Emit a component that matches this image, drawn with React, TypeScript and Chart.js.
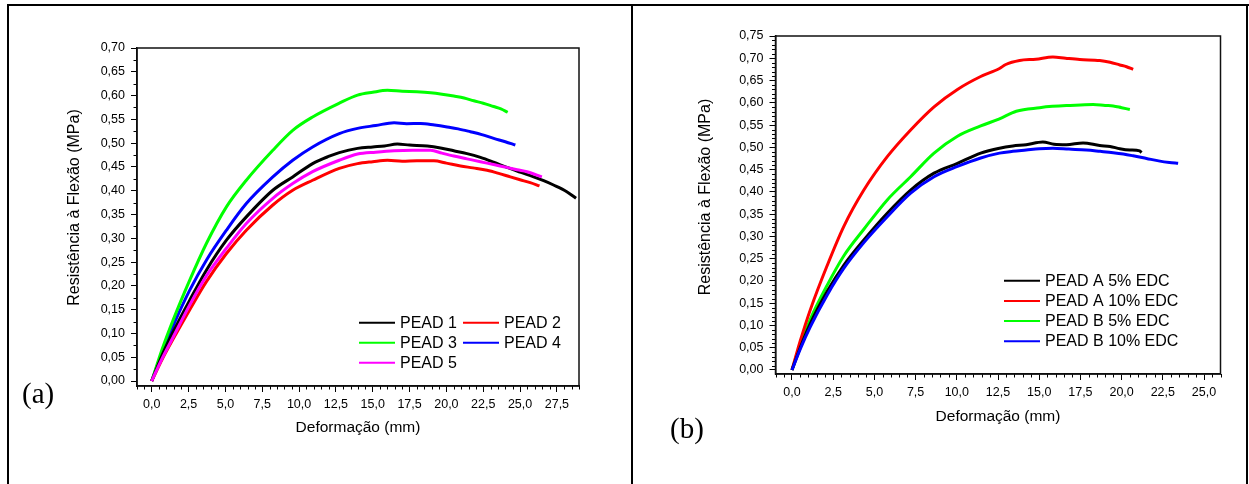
import React, { useEffect, useRef } from "react";
import { Chart, registerables } from "chart.js";

Chart.register(...registerables);

type Pt = [number, number];

// ---------- Panel (a) data: Deformação (mm) vs Resistência à Flexão (MPa) ----------
const pead1: Pt[] = [
  [0, 0], [0.7, 0.054], [1.45, 0.103], [2.58, 0.17], [3.71, 0.233], [5.07, 0.296], [6.42, 0.345],
  [8.22, 0.401], [9.57, 0.429], [10.92, 0.457], [12.0, 0.472], [12.73, 0.48], [13.97, 0.489],
  [15.0, 0.492], [15.8, 0.494], [16.67, 0.498], [17.5, 0.496], [18.7, 0.494], [19.6, 0.49],
  [20.5, 0.484], [21.4, 0.478], [22.31, 0.47], [23.2, 0.46], [24.11, 0.449], [25.0, 0.439],
  [25.92, 0.429], [26.6, 0.421], [27.27, 0.412], [28.17, 0.398], [28.8, 0.384],
];
const pead2: Pt[] = [
  [0, 0], [0.7, 0.045], [1.45, 0.088], [2.58, 0.15], [3.71, 0.209], [5.07, 0.268], [6.42, 0.317],
  [8.22, 0.37], [9.57, 0.401], [10.92, 0.422], [12.73, 0.447], [13.97, 0.457], [15.0, 0.461],
  [16.0, 0.464], [17.0, 0.462], [18.0, 0.463], [19.15, 0.463], [20.0, 0.458], [20.96, 0.452],
  [21.8, 0.448], [22.76, 0.443], [23.6, 0.436], [24.34, 0.429], [25.0, 0.423], [25.69, 0.417],
  [26.32, 0.41],
];
const pead3: Pt[] = [
  [0, 0], [0.7, 0.066], [1.45, 0.128], [2.58, 0.212], [3.71, 0.289], [5.07, 0.366], [6.42, 0.422],
  [8.22, 0.485], [9.57, 0.527], [10.92, 0.555], [12.73, 0.584], [13.97, 0.601], [15.0, 0.607],
  [16.0, 0.611], [17.0, 0.609], [18.0, 0.608], [18.93, 0.606], [19.7, 0.603], [20.5, 0.599],
  [21.2, 0.595], [21.86, 0.589], [22.5, 0.584], [23.2, 0.577], [23.7, 0.572], [24.16, 0.565],
];
const pead4: Pt[] = [
  [0, 0], [0.7, 0.06], [1.45, 0.116], [2.58, 0.191], [3.71, 0.254], [5.07, 0.317], [6.42, 0.373],
  [8.22, 0.429], [9.57, 0.464], [10.92, 0.492], [12.73, 0.52], [13.97, 0.531], [15.2, 0.537],
  [16.45, 0.543], [17.3, 0.541], [18.25, 0.5415], [19.2, 0.538], [20.05, 0.534], [20.8, 0.53],
  [21.63, 0.524], [22.4, 0.518], [23.21, 0.51], [24.0, 0.503], [24.68, 0.496],
];
const pead5: Pt[] = [
  [0, 0], [0.7, 0.047], [1.45, 0.092], [2.58, 0.16], [3.71, 0.221], [5.07, 0.279], [6.42, 0.331],
  [8.22, 0.384], [9.57, 0.415], [10.92, 0.44], [12.73, 0.464], [13.97, 0.477], [15.2, 0.481],
  [16.45, 0.484], [17.7, 0.485], [18.93, 0.485], [19.7, 0.479], [20.5, 0.473], [21.4, 0.467],
  [22.31, 0.461], [23.2, 0.455], [24.11, 0.449], [24.8, 0.444], [25.47, 0.44], [26.48, 0.429],
];
const labelsA = ["PEAD 1", "PEAD 2", "PEAD 3", "PEAD 4", "PEAD 5"];
const colorsA = ["#000000", "#ff0000", "#00ff00", "#0000ff", "#ff00ff"];
const xTicksA = [0, 2.5, 5, 7.5, 10, 12.5, 15, 17.5, 20, 22.5, 25, 27.5];
const yTicksA = [0, 0.05, 0.1, 0.15, 0.2, 0.25, 0.3, 0.35, 0.4, 0.45, 0.5, 0.55, 0.6, 0.65, 0.7];

// ---------- Panel (b) data ----------
const peadA5: Pt[] = [
  [0, 0], [0.5, 0.05], [1.11, 0.104], [2.13, 0.176], [3.14, 0.235], [4.36, 0.292], [5.78, 0.352],
  [7.2, 0.404], [8.62, 0.442], [10.04, 0.464], [11.45, 0.487], [12.59, 0.498], [13.4, 0.503],
  [14.21, 0.506], [15.22, 0.512], [15.9, 0.507], [16.65, 0.506], [17.66, 0.51], [18.67, 0.504],
  [19.3, 0.502], [19.89, 0.497], [20.5, 0.494], [21.1, 0.492], [21.2, 0.488],
];
const peadA10: Pt[] = [
  [0, 0], [0.5, 0.065], [1.11, 0.135], [2.13, 0.234], [3.14, 0.322], [4.36, 0.404], [5.78, 0.479],
  [7.2, 0.539], [8.62, 0.591], [10.04, 0.63], [11.45, 0.659], [12.59, 0.677], [12.97, 0.686],
  [13.81, 0.695], [14.8, 0.698], [15.83, 0.703], [16.6, 0.7], [17.46, 0.697], [18.67, 0.695],
  [19.3, 0.691], [19.89, 0.685], [20.3, 0.681], [20.7, 0.675],
];
const peadB5: Pt[] = [
  [0, 0], [0.5, 0.056], [1.11, 0.114], [2.13, 0.19], [3.14, 0.256], [4.36, 0.316], [5.78, 0.382],
  [7.2, 0.434], [8.62, 0.487], [10.04, 0.525], [11.45, 0.548], [12.59, 0.564], [13.61, 0.581],
  [15.03, 0.589], [15.8, 0.592], [16.65, 0.594], [17.5, 0.595], [18.27, 0.596], [19.0, 0.594],
  [19.49, 0.593], [20.0, 0.589], [20.5, 0.585],
];
const peadB10: Pt[] = [
  [0, 0], [0.5, 0.047], [1.11, 0.097], [2.13, 0.168], [3.14, 0.228], [4.36, 0.286], [5.78, 0.344],
  [7.2, 0.397], [8.62, 0.434], [10.04, 0.457], [11.45, 0.476], [12.59, 0.487], [13.4, 0.491],
  [14.21, 0.494], [15.0, 0.497], [15.83, 0.498], [16.8, 0.496], [17.86, 0.494], [18.7, 0.491],
  [19.49, 0.488], [20.1, 0.485], [20.7, 0.481], [21.51, 0.475], [22.32, 0.469], [22.9, 0.466],
  [23.43, 0.464],
];
const labelsB = ["PEAD A 5% EDC", "PEAD A 10% EDC", "PEAD B 5% EDC", "PEAD B 10% EDC"];
const colorsB = ["#000000", "#ff0000", "#00ff00", "#0000ff"];
const xTicksB = [0, 2.5, 5, 7.5, 10, 12.5, 15, 17.5, 20, 22.5, 25];
const yTicksB = [0, 0.05, 0.1, 0.15, 0.2, 0.25, 0.3, 0.35, 0.4, 0.45, 0.5, 0.55, 0.6, 0.65, 0.7, 0.75];

const xTitle = "Deformação (mm)";
const yTitle = "Resistência à Flexão (MPa)";

const FONT = "'Liberation Sans', Arial, Helvetica, sans-serif";

interface PanelCfg {
  series: Pt[][];
  labels: string[];
  colors: string[];
  orders: number[];
  xMin: number; xMax: number; yMin: number; yMax: number;
  xTicks: number[]; yTicks: number[];
  xMinor: number; yMinor: number;
  width: number; height: number;
  pad: { left: number; right: number; top: number; bottom: number };
  yAxisWidth: number; xAxisHeight: number;
  yTitlePos: { x: number; y: number };
  legend: { x: number; y: number; rowGap: number; colGap: number; cols: number; lineLen: number; textGap: number };
}

const panelA: PanelCfg = {
  series: [pead1, pead2, pead3, pead4, pead5],
  labels: labelsA,
  colors: colorsA,
  orders: [1, 1, 1, 1, 0],
  xMin: -1, xMax: 29, yMin: -0.0105, yMax: 0.7,
  xTicks: xTicksA, yTicks: yTicksA,
  xMinor: 4, yMinor: 1,
  width: 632, height: 484,
  pad: { left: 60, right: 53, top: 48, bottom: 42.7 },
  yAxisWidth: 77, xAxisHeight: 55.3,
  yTitlePos: { x: 75, y: 207.5 },
  legend: { x: 359, y: 322.7, rowGap: 20, colGap: 104, cols: 2, lineLen: 36, textGap: 5 },
};

const panelB: PanelCfg = {
  series: [peadA5, peadA10, peadB5, peadB10],
  labels: labelsB,
  colors: colorsB,
  orders: [1, 1, 1, 0],
  xMin: -1, xMax: 26, yMin: -0.009, yMax: 0.75,
  xTicks: xTicksB, yTicks: yTicksB,
  xMinor: 4, yMinor: 4,
  width: 617, height: 484,
  pad: { left: 60, right: 28.5, top: 36, bottom: 53.7 },
  yAxisWidth: 83.5, xAxisHeight: 56.3,
  yTitlePos: { x: 74, y: 197 },
  legend: { x: 372, y: 280.7, rowGap: 20.2, colGap: 0, cols: 1, lineLen: 36, textGap: 5 },
};

const decorPlugin = {
  id: "decor",
  afterDraw(chart: any, _args: any, opts: any) {
    const cfg: PanelCfg = opts.cfg;
    const { ctx, chartArea: ca, scales } = chart;
    const xs = scales.x;
    const ys = scales.y;
    ctx.save();
    ctx.strokeStyle = "#000";
    ctx.lineWidth = 1;
    // minor ticks, x
    const sx = cfg.xTicks[1] - cfg.xTicks[0];
    for (let i = -1; i <= cfg.xTicks.length; i++) {
      const base = cfg.xTicks[0] + i * sx;
      for (let k = 1; k <= cfg.xMinor; k++) {
        const v = base + (k * sx) / (cfg.xMinor + 1);
        if (v < cfg.xMin || v > cfg.xMax) continue;
        const px = Math.round(xs.getPixelForValue(v)) + 0.5;
        ctx.beginPath();
        ctx.moveTo(px, ca.bottom);
        ctx.lineTo(px, ca.bottom + 3.5);
        ctx.stroke();
      }
    }
    // minor ticks, y
    const sy = cfg.yTicks[1] - cfg.yTicks[0];
    for (let i = -1; i <= cfg.yTicks.length; i++) {
      const base = cfg.yTicks[0] + i * sy;
      for (let k = 1; k <= cfg.yMinor; k++) {
        const v = base + (k * sy) / (cfg.yMinor + 1);
        if (v < cfg.yMin || v > cfg.yMax) continue;
        const py = Math.round(ys.getPixelForValue(v)) + 0.5;
        ctx.beginPath();
        ctx.moveTo(ca.left, py);
        ctx.lineTo(ca.left - 3.5, py);
        ctx.stroke();
      }
    }
    // frame box
    ctx.lineWidth = 1.5;
    ctx.strokeStyle = "#111";
    ctx.strokeRect(ca.left, ca.top, ca.right - ca.left, ca.bottom - ca.top);
    // y title
    ctx.save();
    ctx.translate(cfg.yTitlePos.x, cfg.yTitlePos.y);
    ctx.rotate(-Math.PI / 2);
    ctx.font = `16px ${FONT}`;
    ctx.fillStyle = "#000";
    ctx.textAlign = "center";
    ctx.textBaseline = "middle";
    ctx.fillText(yTitle, 0, 0);
    ctx.restore();
    // legend
    const lg = cfg.legend;
    ctx.font = `16px ${FONT}`;
    ctx.textAlign = "left";
    ctx.textBaseline = "middle";
    chart.data.datasets.forEach((ds: any, i: number) => {
      const row = Math.floor(i / lg.cols);
      const col = i % lg.cols;
      const x0 = lg.x + col * lg.colGap;
      const y0 = lg.y + row * lg.rowGap;
      ctx.strokeStyle = ds.borderColor;
      ctx.lineWidth = 2;
      ctx.beginPath();
      ctx.moveTo(x0, y0);
      ctx.lineTo(x0 + lg.lineLen, y0);
      ctx.stroke();
      ctx.fillStyle = "#000";
      ctx.fillText(ds.label, x0 + lg.lineLen + lg.textGap, y0 + 0.5);
    });
    ctx.restore();
  },
};

const fmt = (v: number, d: number) => Number(v).toFixed(d).replace(".", ",");

function Panel({ cfg, left }: { cfg: PanelCfg; left: number }) {
  const ref = useRef<HTMLCanvasElement | null>(null);
  useEffect(() => {
    if (!ref.current) return;
    const chart = new Chart(ref.current, {
      type: "line",
      data: {
        datasets: cfg.series.map((pts, i) => ({
          label: cfg.labels[i],
          data: pts.map(([x, y]) => ({ x, y })),
          borderColor: cfg.colors[i],
          backgroundColor: cfg.colors[i],
          borderWidth: 3,
          pointRadius: 0,
          fill: false,
          cubicInterpolationMode: "monotone",
          order: cfg.orders[i],
        })),
      },
      options: {
        responsive: false,
        animation: false,
        devicePixelRatio: 1,
        layout: { padding: cfg.pad },
        plugins: {
          legend: { display: false },
          tooltip: { enabled: false },
          decor: { cfg },
        } as any,
        scales: {
          x: {
            type: "linear",
            min: cfg.xMin,
            max: cfg.xMax,
            afterBuildTicks: (s: any) => {
              s.ticks = cfg.xTicks.map((v) => ({ value: v }));
            },
            afterFit: (s: any) => {
              s.height = cfg.xAxisHeight;
            },
            ticks: {
              autoSkip: false,
              maxRotation: 0,
              padding: 5.5,
              color: "#000",
              font: { family: FONT, size: 12.5 },
              callback: (v: any) => fmt(v, 1),
            },
            grid: { drawOnChartArea: false, drawTicks: true, tickLength: 6, color: "#000", lineWidth: 1 },
            border: { display: true, color: "#000", width: 1.5 },
            title: {
              display: true,
              text: xTitle,
              color: "#000",
              font: { family: FONT, size: 15.5 },
              padding: { top: 4, bottom: 4 },
            },
          },
          y: {
            type: "linear",
            min: cfg.yMin,
            max: cfg.yMax,
            afterBuildTicks: (s: any) => {
              s.ticks = cfg.yTicks.map((v) => ({ value: v }));
            },
            afterFit: (s: any) => {
              s.width = cfg.yAxisWidth;
            },
            ticks: {
              autoSkip: false,
              padding: 6,
              color: "#000",
              font: { family: FONT, size: 12.5 },
              callback: (v: any) => fmt(v, 2),
            },
            grid: { drawOnChartArea: false, drawTicks: true, tickLength: 6, color: "#000", lineWidth: 1 },
            border: { display: true, color: "#000", width: 1.5 },
            title: { display: false },
          },
        },
      } as any,
      plugins: [decorPlugin],
    });
    return () => chart.destroy();
  }, [cfg]);
  return (
    <canvas
      ref={ref}
      width={cfg.width}
      height={cfg.height}
      style={{ position: "absolute", left, top: 0, width: cfg.width, height: cfg.height }}
    />
  );
}

export default function App() {
  const line = (l: number, t: number, w: number, h: number) => (
    <div style={{ position: "absolute", left: l, top: t, width: w, height: h, background: "#000" }} />
  );
  const panelLabel: React.CSSProperties = {
    position: "absolute",
    fontFamily: "'Liberation Serif', 'Times New Roman', serif",
    fontSize: 29,
    lineHeight: "29px",
    color: "#000",
    whiteSpace: "nowrap",
  };
  return (
    <div
      style={{
        position: "absolute",
        left: 0,
        top: 0,
        width: 1249,
        height: 484,
        background: "#fff",
        overflow: "hidden",
      }}
    >
      <Panel cfg={panelA} left={0} />
      <Panel cfg={panelB} left={632} />
      {line(7, 4, 1242, 2)}
      {line(7, 4, 2, 480)}
      {line(631, 4, 2, 480)}
      {line(1246, 4, 2, 480)}
      <div style={{ ...panelLabel, left: 22, top: 378.5 }}>(a)</div>
      <div style={{ ...panelLabel, left: 670, top: 413.5 }}>(b)</div>
    </div>
  );
}
